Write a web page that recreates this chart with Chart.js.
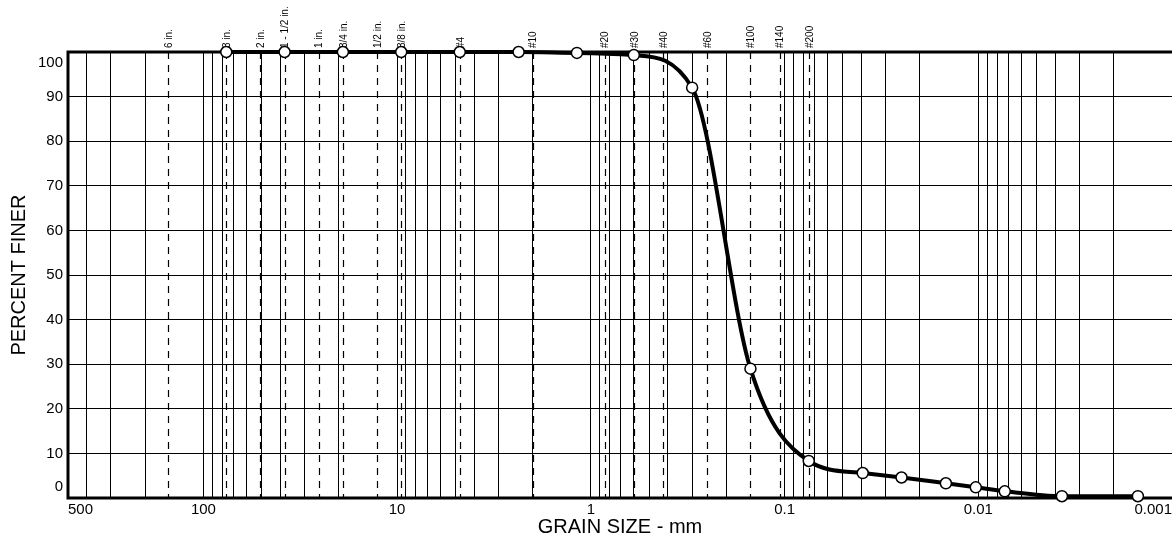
<!DOCTYPE html>
<html>
<head>
<meta charset="utf-8">
<script src="https://cdn.jsdelivr.net/npm/chart.js@4.4.1/dist/chart.umd.min.js"></script>
<style>
  html, body { margin: 0; padding: 0; background: #fff; }
  #wrap { width: 1172px; height: 542px; }
</style>
</head>
<body>
<div id="wrap"><canvas id="grainChart"></canvas></div>
<script>
// grain size (mm) and percent finer
const grainSizes = [76.2, 38.1, 19.05, 9.525, 4.75, 2.36, 1.18, 0.6, 0.3, 0.15, 0.075,
                    0.0395, 0.0249, 0.0147, 0.0103, 0.0073, 0.0037, 0.0015];
const percentFiner = [100, 100, 100, 100, 100, 100, 99.8, 99.3, 92.0, 29.0, 8.3,
                      5.6, 4.6, 3.3, 2.4, 1.5, 0.4, 0.4];

// sieve openings drawn as dashed lines with labels on top
const sieveSizes = [152.4, 76.2, 50.8, 38.1, 25.4, 19.05, 12.7, 9.525, 4.75, 2.0,
                    0.85, 0.6, 0.425, 0.25, 0.15, 0.106, 0.075];
const sieveLabels = ['6 in.', '3 in.', '2 in.', '1 - 1/2 in.', '1 in.', '3/4 in.', '1/2 in.', '3/8 in.', '#4', '#10',
                     '#20', '#30', '#40', '#60', '#100', '#140', '#200'];

// labelled ticks
const xTickValues = [500, 100, 10, 1, 0.1, 0.01, 0.001];
const xTickLabels = ['500', '100', '10', '1', '0.1', '0.01', '0.001'];
const yTickValues = [0, 10, 20, 30, 40, 50, 60, 70, 80, 90, 100];

const FONT = '"Liberation Sans", Arial, sans-serif';

// grid lines at 1..9 of every decade inside the axis range
function gridValues(min, max) {
    const vals = [];
    for (let e = Math.floor(Math.log10(min)); e <= Math.ceil(Math.log10(max)); e++) {
        for (let m = 1; m < 10; m++) {
            const v = Number((m * Math.pow(10, e)).toPrecision(3));
            if (v >= min && v <= max) vals.push(v);
        }
    }
    return vals;
}

const sievePlugin = {
    id: 'sieves',
    beforeDatasetsDraw(chart) {
        const { ctx, chartArea: a, scales: { x } } = chart;
        ctx.save();
        ctx.strokeStyle = '#000';
        ctx.lineWidth = 1.2;
        ctx.setLineDash([7, 6]);
        sieveSizes.forEach(s => {
            const px = Math.round(x.getPixelForValue(s)) + 0.5;
            ctx.beginPath();
            ctx.moveTo(px, a.top);
            ctx.lineTo(px, a.bottom);
            ctx.stroke();
        });
        ctx.setLineDash([]);
        // heavy frame on left, top and bottom
        ctx.lineWidth = 3;
        ctx.beginPath();
        ctx.moveTo(a.right + 2, a.top);
        ctx.lineTo(a.left, a.top);
        ctx.lineTo(a.left, a.bottom);
        ctx.lineTo(a.right + 2, a.bottom);
        ctx.stroke();
        ctx.restore();
    },
    afterDraw(chart) {
        const { ctx, chartArea: a, scales: { x } } = chart;
        ctx.save();
        ctx.fillStyle = '#000';
        ctx.font = '10px ' + FONT;
        ctx.textAlign = 'left';
        ctx.textBaseline = 'middle';
        sieveSizes.forEach((s, i) => {
            ctx.save();
            ctx.translate(x.getPixelForValue(s) + 1, a.top - 4);
            ctx.rotate(-Math.PI / 2);
            ctx.fillText(sieveLabels[i], 0, 0);
            ctx.restore();
        });
        ctx.restore();
    }
};

new Chart(document.getElementById('grainChart'), {
    type: 'line',
    data: {
        datasets: [{
            data: grainSizes.map((g, i) => ({ x: g, y: percentFiner[i] })),
            borderColor: '#000',
            borderWidth: 4,
            cubicInterpolationMode: 'monotone',
            pointRadius: 5.5,
            pointBackgroundColor: '#fff',
            pointBorderColor: '#000',
            pointBorderWidth: 1.5,
            clip: false
        }]
    },
    options: {
        responsive: true,
        maintainAspectRatio: false,
        animation: false,
        layout: { autoPadding: false, padding: { top: 52, right: 0, bottom: 0, left: 0 } },
        plugins: { legend: { display: false }, tooltip: { enabled: false } },
        scales: {
            x: {
                type: 'logarithmic',
                min: 0.001,
                max: 500,
                reverse: true,
                afterBuildTicks: s => { s.ticks = gridValues(0.001, 500).map(v => ({ value: v })); },
                afterFit: s => { s.height = 44; s.paddingLeft = 0; s.paddingRight = 0; },
                grid: { color: '#000', lineWidth: 1, drawTicks: false },
                border: { display: false },
                ticks: {
                    autoSkip: false,
                    maxRotation: 0,
                    align: 'inner',
                    padding: 3,
                    color: '#000',
                    font: { family: FONT, size: 15 },
                    callback: v => {
                        const i = xTickValues.findIndex(t => Math.abs(t - v) / t < 1e-6);
                        return i < 0 ? '' : xTickLabels[i];
                    }
                },
                title: {
                    display: true,
                    text: 'GRAIN SIZE - mm',
                    color: '#000',
                    font: { family: FONT, size: 20 },
                    padding: { top: 0, bottom: 3 }
                }
            },
            y: {
                min: 0,
                max: 100,
                afterBuildTicks: s => { s.ticks = yTickValues.map(v => ({ value: v })); },
                afterFit: s => { s.width = 68; },
                grid: { color: '#000', lineWidth: 1, drawTicks: false },
                border: { display: false },
                ticks: {
                    autoSkip: false,
                    padding: 5,
                    color: '#000',
                    font: { family: FONT, size: 15, lineHeight: 1.5 },
                    callback: v => v === 100 ? ['', '100'] : v === 0 ? ['0', ''] : String(v)
                },
                title: {
                    display: true,
                    text: 'PERCENT FINER',
                    color: '#000',
                    font: { family: FONT, size: 20 },
                    padding: { top: 7, bottom: 0 }
                }
            }
        }
    },
    plugins: [sievePlugin]
});
</script>
</body>
</html>
